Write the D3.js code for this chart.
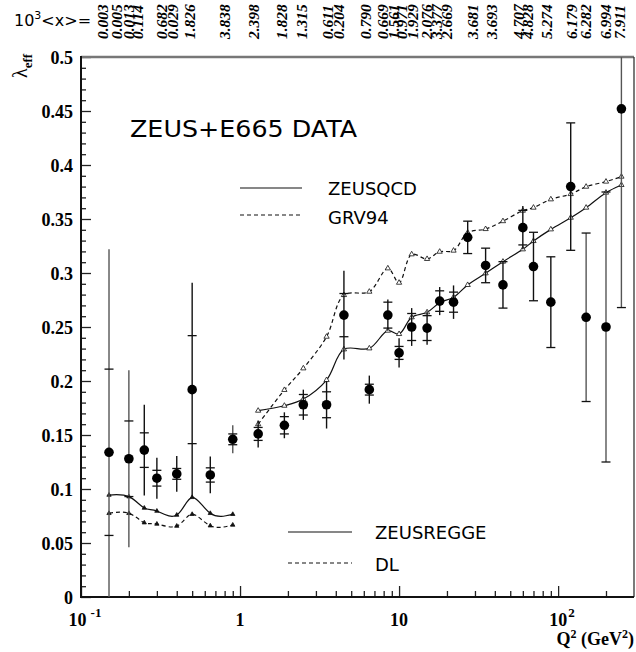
<!DOCTYPE html>
<html><head><meta charset="utf-8">
<script src="https://cdn.jsdelivr.net/npm/d3@7"></script>
<style>
body{margin:0;background:#fff;}
svg{display:block;}
.serif{font-family:"Liberation Serif","Times New Roman",serif;font-weight:bold;}
.sans{font-family:"DejaVu Sans",sans-serif;}
</style></head>
<body>
<svg id="c" width="636" height="652"></svg>
<script>
// ---------- data ----------
const q2 = [0.15,0.2,0.25,0.3,0.4,0.5,0.65,0.9, 1.3,1.9,2.5,3.5,4.5,6.5,8.5,10,12,15,18,22,27,35,45,60,70,90,120,150,200,250];
const lambdaEff = [0.134,0.128,0.136,0.110,0.114,0.192,0.113,0.146, 0.151,0.159,0.178,0.178,0.261,0.192,0.261,0.226,0.250,0.249,0.274,0.273,0.333,0.307,0.289,0.342,0.306,0.273,0.380,0.259,0.250,0.452];
const statErr = [0.077,0.035,0.016,0.0073,0.005,0.050,0.0066,0.005, 0.006,0.008,0.0095,0.012,0.020,0.005,0.012,0.006,0.0125,0.0115,0.0095,0.0093, 0.015,0.016,0.0215,0.016,0.0317,0.042,0.059,0.078,0.125,0.184];
const totErr = [0.188,0.082,0.042,0.019,0.0165,0.099,0.017,0.013, 0.0125,0.012,0.014,0.022,0.041,0.013,0.0145,0.0135,0.0175,0.0155,0.013,0.0155, 0.015,0.016,0.0215,0.020,0.0317,0.042,0.059,0.078,0.125,0.184];

const reggeQ2 = [0.15,0.2,0.25,0.3,0.4,0.5,0.65,0.9];
const zeusRegge = [0.0944,0.0929,0.0824,0.0796,0.0759,0.0923,0.0775,0.0766];
const dl = [0.0775,0.0775,0.0688,0.0676,0.0657,0.0766,0.0660,0.0667];

const qcdQ2 = [1.3,1.9,2.5,3.5,4.5,6.5,8.5,10,12,15,18,22,27,35,45,60,70,90,120,150,200,250];
const zeusQcd = [0.1725,0.1771,0.1833,0.2009,0.2293,0.2302,0.2466,0.2435,0.259,0.2636,0.2725,0.2775,0.2889,0.2997,0.3105,0.3219,0.3296,0.3404,0.3512,0.3605,0.3744,0.3815];
const grv94 = [0.160,0.1917,0.2117,0.241,0.2796,0.2827,0.3043,0.291,0.3173,0.313,0.3197,0.3207,0.3373,0.3407,0.348,0.3577,0.3605,0.3682,0.3731,0.3799,0.3846,0.3892];

const xLabels = ["0.003","0.005","0.013","0.114","0.682","0.029","1.826","3.838","2.398","1.828","1.315","0.611","0.204","0.790","0.669","1.561","0.971","1.929","2.076","3.377","2.669","3.681","3.693","4.707","4.828","5.274","6.179","6.282","6.994","7.911"];
const xLabelQ2 = [0.136,0.168,0.198,0.226,0.323,0.379,0.485,0.805,1.21,1.82,2.45,3.57,4.19,6.2,7.93,9.17,10.4,12.2,14.8,17.3,20.0,28.8,38.4,56,64.7,84,122,148,200,242];

const yMajor = [0,0.05,0.1,0.15,0.2,0.25,0.3,0.35,0.4,0.45,0.5];
const yMajorLabels = ["0","0.05","0.1","0.15","0.2","0.25","0.3","0.35","0.4","0.45","0.5"];
const xMajor = [0.1,1,10,100];
const xMajorBase = ["10","1","10","10"];
const xMajorExp = ["-1","","","2"];

// ---------- scales ----------
const svg = d3.select("#c");
const x = d3.scaleLog().domain([0.1,300]).range([81,634]);
const y = d3.scaleLinear().domain([0,0.5]).range([597,57]);

// minor ticks
const yMinor = d3.range(0,0.5001,0.01).filter(v=>Math.abs(v*20-Math.round(v*20))>1e-6);
const xMinor = [];
[0.1,1,10,100].forEach(d=>{for(let k=2;k<=9;k++){const v=d*k; if(v<300) xMinor.push(v);}});

// y axis
const gy = svg.append("g").attr("transform","translate(81,0)");
gy.call(d3.axisLeft(y).tickValues(yMinor).tickSize(-5).tickFormat(""));
const gy2 = svg.append("g").attr("transform","translate(81,0)");
gy2.call(d3.axisLeft(y).tickValues(yMajor).tickSize(-10).tickPadding(8).tickFormat((d,i)=>yMajorLabels[i]));
[gy,gy2].forEach(g=>{g.select(".domain").remove(); g.selectAll("line").attr("stroke","#222").attr("stroke-width",1.3);});
gy2.selectAll("text").attr("class","serif").attr("font-size",18).attr("fill","#000").attr("dy","0.35em");

// x axis
const gx = svg.append("g").attr("transform","translate(0,597)");
gx.call(d3.axisBottom(x).tickValues(xMinor).tickSize(-6).tickFormat(""));
const gx2 = svg.append("g").attr("transform","translate(0,597)");
gx2.call(d3.axisBottom(x).tickValues(xMajor).tickSize(-11).tickFormat(""));
[gx,gx2].forEach(g=>{g.select(".domain").remove(); g.selectAll("line").attr("stroke","#222").attr("stroke-width",1.3);});
xMajor.forEach((v,i)=>{
  const t = svg.append("text").attr("class","serif").attr("font-size",18)
    .attr("x",x(v)+(xMajorExp[i]?4:0)).attr("y",626).attr("text-anchor","middle");
  t.append("tspan").text(xMajorBase[i]);
  if(xMajorExp[i]) t.append("tspan").attr("dy",-9).attr("dx",xMajorExp[i]==="-1"?4:1).attr("font-size",13).text(xMajorExp[i]);
});

// frame
svg.append("line").attr("x1",81).attr("x2",634).attr("y1",57).attr("y2",57).attr("stroke","#777").attr("stroke-width",2.5);
svg.append("line").attr("x1",634).attr("x2",634).attr("y1",57).attr("y2",597).attr("stroke","#333").attr("stroke-width",1.3);
svg.append("line").attr("x1",81).attr("x2",81).attr("y1",56).attr("y2",598).attr("stroke","#111").attr("stroke-width",2);
svg.append("line").attr("x1",80).attr("x2",634).attr("y1",597).attr("y2",597).attr("stroke","#111").attr("stroke-width",2);

// axis titles
const xt = svg.append("text").attr("class","serif").attr("font-size",18).attr("x",634).attr("y",645).attr("text-anchor","end");
xt.append("tspan").text("Q");
xt.append("tspan").attr("dy",-7).attr("font-size",12).text("2");
xt.append("tspan").attr("dy",7).text(" (GeV");
xt.append("tspan").attr("dy",-7).attr("font-size",12).text("2");
xt.append("tspan").attr("dy",7).text(")");

const yt = svg.append("text").attr("transform","translate(27,78) rotate(-90)").attr("font-family","Liberation Serif, serif");
yt.append("tspan").attr("font-size",20).text("λ");
yt.append("tspan").attr("dy",5).attr("font-size",13).attr("font-weight","bold").text("eff");

// top label
const tt = svg.append("text").attr("class","sans").attr("font-size",16).attr("x",14).attr("y",26);
tt.append("tspan").text("10");
tt.append("tspan").attr("dy",-7).attr("font-size",11).text("3");
tt.append("tspan").attr("dy",7).text("<x>=");

svg.append("g").selectAll("text").data(xLabels).join("text")
  .attr("transform",(d,i)=>`translate(${x(xLabelQ2[i])},39) rotate(-90)`)
  .attr("dy","0.35em")
  .attr("font-family","Liberation Serif, serif").attr("font-weight","bold").attr("font-style","italic")
  .attr("font-size",15.5).text(d=>d);

// ---------- curves ----------
svg.append("clipPath").attr("id","pc").append("rect").attr("x",81).attr("y",57).attr("width",553).attr("height",540);
const lnNat = d3.line().curve(d3.curveNatural);
const lnCR = d3.line().curve(d3.curveCatmullRom.alpha(0.5));
function pts(xs,ys){return xs.map((v,i)=>[x(v),y(ys[i])]);}
svg.append("path").attr("d",lnNat(pts(reggeQ2,zeusRegge))).attr("fill","none").attr("stroke","#111").attr("stroke-width",1.2);
svg.append("path").attr("d",lnNat(pts(reggeQ2,dl))).attr("fill","none").attr("stroke","#111").attr("stroke-width",1.2).attr("stroke-dasharray","4,3");
svg.append("path").attr("d",lnCR(pts(qcdQ2,zeusQcd))).attr("fill","none").attr("stroke","#111").attr("stroke-width",1.2);
svg.append("path").attr("d",lnCR(pts(qcdQ2,grv94))).attr("fill","none").attr("stroke","#111").attr("stroke-width",1.2).attr("stroke-dasharray","4,3");

const tri = d3.symbol().type(d3.symbolTriangle);
function markers(xs,ys,size,fill){
  svg.append("g").selectAll("path").data(xs).join("path")
    .attr("transform",(d,i)=>`translate(${x(d)},${y(ys[i])})`)
    .attr("d",tri.size(size)()).attr("fill",fill).attr("stroke","#111").attr("stroke-width",0.8);
}
markers(reggeQ2,zeusRegge,8,"#111");
markers(reggeQ2,dl,8,"#111");
markers(qcdQ2,zeusQcd,12,"#fff");
markers(qcdQ2,grv94,12,"#fff");

// ---------- data points ----------
const gd = svg.append("g").attr("clip-path","url(#pc)");
q2.forEach((q,i)=>{
  const cx = x(q), v = lambdaEff[i];
  const col = (i===0||i===1||i===7||i>=27) ? "#555" : "#111";
  gd.append("line").attr("x1",cx).attr("x2",cx).attr("y1",y(v+totErr[i])).attr("y2",y(v-totErr[i])).attr("stroke",col).attr("stroke-width",1.4);
  [v+statErr[i],v-statErr[i]].forEach(s=>{
    gd.append("line").attr("x1",cx-4.5).attr("x2",cx+4.5).attr("y1",y(s)).attr("y2",y(s)).attr("stroke","#111").attr("stroke-width",1.3);
  });
});
svg.append("g").selectAll("circle").data(q2).join("circle")
  .attr("cx",d=>x(d)).attr("cy",(d,i)=>y(lambdaEff[i])).attr("r",4.8).attr("fill","#000");

// ---------- legends / annotations ----------
svg.append("text").attr("class","sans").attr("font-size",23).attr("x",130).attr("y",137).attr("textLength",227).attr("lengthAdjust","spacingAndGlyphs").text("ZEUS+E665 DATA");
function leg(x1,x2,yy,dash,label,tx,ty){
  const l = svg.append("line").attr("x1",x1).attr("x2",x2).attr("y1",yy).attr("y2",yy).attr("stroke","#111").attr("stroke-width",1.2);
  if(dash) l.attr("stroke-dasharray","4,3");
  svg.append("text").attr("class","sans").attr("font-size",18).attr("x",tx).attr("y",ty).text(label);
}
leg(240,302,188,false,"ZEUSQCD",328,195);
leg(240,302,215,true,"GRV94",328,224);
leg(288,352,532,false,"ZEUSREGGE",375,539);
leg(288,352,563,true,"DL",375,571);
</script>
</body></html>
